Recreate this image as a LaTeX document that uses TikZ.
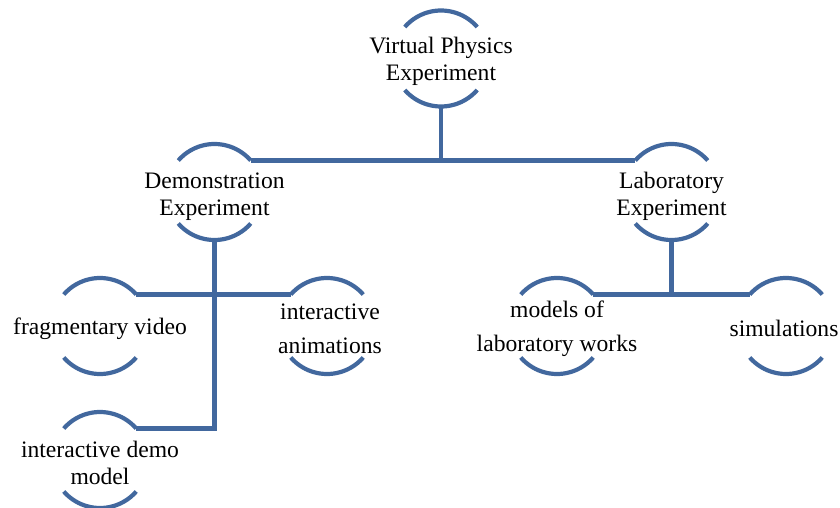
\documentclass[tikz,border=0pt]{standalone}
\usepackage{fontspec}
\setmainfont{Liberation Serif}
\usetikzlibrary{calc}
\definecolor{ringblue}{RGB}{66,104,158}
\tikzset{
  ring/.style={draw=ringblue,line width=4.2pt,line cap=butt},
  conn/.style={draw=ringblue,line width=4.2pt,line join=miter},
  lbl/.style={align=center,inner sep=0pt,yshift=-2.5pt,font=\fontsize{23.6}{27}\selectfont},
  widelbl/.style={lbl,font=\fontsize{23.6}{34}\selectfont},
}
\newcommand\ringnode[4]{%
  \node[#4] (#1) at (#2) {#3};
  \coordinate (#1-ne) at ($(#2)+(41:48)$);
  \coordinate (#1-nw) at ($(#2)+(139:48)$);
  \coordinate (#1-s) at ($(#2)+(0,-48)$);
  \draw[ring] (#1-ne) arc[start angle=41,end angle=139,radius=48];
  \draw[ring] ($(#2)+(221:48)$) arc[start angle=221,end angle=319,radius=48];
}
\begin{document}
\begin{tikzpicture}[x=1pt,y=1pt]
\useasboundingbox (0,0) rectangle (840,-508);
\ringnode{top}{441,-58.5}{Virtual Physics\\Experiment}{lbl}
\ringnode{demo}{214.5,-192}{Demonstration\\Experiment}{lbl,yshift=-2pt}
\ringnode{lab}{671.5,-192}{Laboratory\\Experiment}{lbl,yshift=-2pt}
\ringnode{frag}{100,-326}{fragmentary video}{lbl}
\ringnode{anim}{327,-326}{interactive\\animations}{widelbl,xshift=3pt}
\ringnode{models}{557,-326}{models of\\laboratory works}{widelbl}
\ringnode{sim}{786,-326}{simulations}{lbl,xshift=-2pt}
\ringnode{idm}{100,-460}{interactive demo\\model}{lbl}
\draw[conn] (top-s) -- (top-s |- demo-ne);
\draw[conn] (demo-ne) -- (lab-nw);
\draw[conn] (demo-s) |- (idm-ne);
\draw[conn] (frag-ne) -- (anim-nw);
\draw[conn] (lab-s) -- (lab-s |- models-ne);
\draw[conn] (models-ne) -- (sim-nw);
\end{tikzpicture}
\end{document}
